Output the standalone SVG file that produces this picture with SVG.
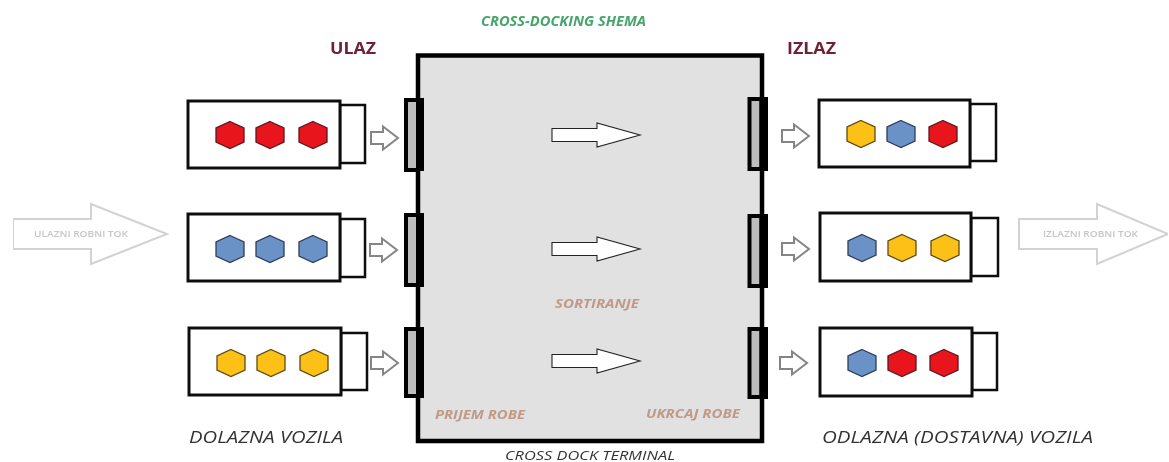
<svg xmlns="http://www.w3.org/2000/svg" width="1169" height="462" viewBox="0 0 1169 462">
<style>
text{font-family:"Open Sans","Liberation Sans",sans-serif}
.box{fill:#fff;stroke:#111;stroke-width:3}
.cab{fill:#fff;stroke:#111;stroke-width:2.5}
.r{fill:#e8161f;stroke:#5a1a20;stroke-width:1.3}
.b{fill:#6b92c6;stroke:#2c3e5c;stroke-width:1.3}
.y{fill:#fcc014;stroke:#5e4a12;stroke-width:1.3}
.sm{fill:#fff;stroke:#858585;stroke-width:2}
.big{fill:#fff;stroke:#d2d2d2;stroke-width:2}
.wh{fill:#fff;stroke:#222;stroke-width:1.1}
.door{fill:#bdbdbd;stroke:#000;stroke-width:4}
.dk{fill:#000}
.hd{font-size:15.5px;font-weight:700;fill:#6e2438}
.veh{font-size:17px;fill:#333;font-style:italic}
.br{font-size:13px;font-weight:700;font-style:italic;fill:#c09a86}
.flow{font-size:9.5px;fill:#c6c6c6;font-weight:600}
</style>
<defs>
<polygon id="hex" points="0,-13.5 14,-7 14,7 0,13.5 -14,7 -14,-7"/>
<polygon id="sa" points="0,-6 12,-6 12,-11.5 27,0 12,11.5 12,6 0,6"/>
<polygon id="wa" points="0,-6.5 45,-6.5 45,-12 88,0 45,12 45,6.5 0,6.5"/>
<filter id="soft" x="0" y="0" width="100%" height="100%"><feGaussianBlur stdDeviation="0.35"/></filter>
</defs>
<g filter="url(#soft)">
<g id="terminal"><rect x="418" y="55.5" width="344" height="385.5" fill="#e1e1e1" stroke="#000" stroke-width="4.5"/></g>
<g id="doors-in">
<rect class="door" x="406" y="100" width="12" height="70"/><rect class="dk" x="416" y="98" width="8" height="73"/>
<rect class="door" x="406" y="215" width="12" height="70"/><rect class="dk" x="416" y="213" width="8" height="74"/>
<rect class="door" x="406" y="329" width="12" height="67"/><rect class="dk" x="416" y="327" width="8" height="71"/>
</g>
<g id="doors-out">
<rect class="door" x="749.5" y="99" width="12" height="70"/><rect class="dk" x="759.5" y="97" width="8.5" height="74"/>
<rect class="door" x="749.5" y="216" width="12" height="70"/><rect class="dk" x="759.5" y="214" width="8.5" height="74"/>
<rect class="door" x="749.5" y="329" width="12" height="68"/><rect class="dk" x="759.5" y="327" width="8.5" height="72"/>
</g>
<g id="truck-in-1"><rect class="cab" x="340" y="105" width="25" height="58"/><rect class="box" x="188" y="101" width="152" height="67"/>
<use href="#hex" class="r" x="230" y="135"/><use href="#hex" class="r" x="270" y="135"/><use href="#hex" class="r" x="313" y="135"/></g>
<g id="truck-in-2"><rect class="cab" x="340" y="219" width="25" height="58"/><rect class="box" x="188" y="214" width="152" height="67"/>
<use href="#hex" class="b" x="230" y="249"/><use href="#hex" class="b" x="270" y="249"/><use href="#hex" class="b" x="313" y="249"/></g>
<g id="truck-in-3"><rect class="cab" x="341" y="333" width="26" height="57"/><rect class="box" x="189" y="328" width="152" height="67"/>
<use href="#hex" class="y" x="231" y="363"/><use href="#hex" class="y" x="271" y="363"/><use href="#hex" class="y" x="314" y="363"/></g>
<g id="truck-out-1"><rect class="cab" x="970" y="104" width="26" height="57"/><rect class="box" x="819" y="100" width="151" height="67"/>
<use href="#hex" class="y" x="861" y="134"/><use href="#hex" class="b" x="901" y="134"/><use href="#hex" class="r" x="943" y="134"/></g>
<g id="truck-out-2"><rect class="cab" x="971" y="218" width="27" height="58"/><rect class="box" x="820" y="213" width="151" height="68"/>
<use href="#hex" class="b" x="862" y="248"/><use href="#hex" class="y" x="902" y="248"/><use href="#hex" class="y" x="945" y="248"/></g>
<g id="truck-out-3"><rect class="cab" x="972" y="333" width="25" height="57"/><rect class="box" x="820" y="328" width="152" height="68"/>
<use href="#hex" class="b" x="862" y="363"/><use href="#hex" class="r" x="902" y="363"/><use href="#hex" class="r" x="944" y="363"/></g>
<g id="connectors">
<use href="#sa" class="sm" x="371" y="138"/><use href="#sa" class="sm" x="370" y="250"/><use href="#sa" class="sm" x="371" y="363"/>
<use href="#sa" class="sm" x="782" y="136"/><use href="#sa" class="sm" x="782" y="249"/><use href="#sa" class="sm" x="780" y="363"/>
<use href="#wa" class="wh" x="552" y="135"/><use href="#wa" class="wh" x="552" y="249"/><use href="#wa" class="wh" x="552" y="361"/>
<polygon class="big" points="13,219 91,219 91,204 167,234 91,264 91,249 13,249"/>
<polygon class="big" points="1019,219 1097,219 1097,204 1168,234 1097,264 1097,249 1019,249"/>
</g>
<g id="labels">
<text x="481" y="26" font-size="15" font-weight="700" font-style="italic" fill="#45a56b" textLength="165" lengthAdjust="spacingAndGlyphs">CROSS-DOCKING SHEMA</text>
<text class="hd" x="330" y="54" textLength="46" lengthAdjust="spacingAndGlyphs">ULAZ</text>
<text class="hd" x="787" y="54" textLength="49" lengthAdjust="spacingAndGlyphs">IZLAZ</text>
<text class="br" x="555" y="308" textLength="84" lengthAdjust="spacingAndGlyphs">SORTIRANJE</text>
<text class="br" x="435" y="419" textLength="90" lengthAdjust="spacingAndGlyphs">PRIJEM ROBE</text>
<text class="br" x="646" y="418" textLength="94" lengthAdjust="spacingAndGlyphs">UKRCAJ ROBE</text>
<text class="veh" x="189" y="443" textLength="154" lengthAdjust="spacingAndGlyphs">DOLAZNA VOZILA</text>
<text class="veh" x="822" y="443" textLength="271" lengthAdjust="spacingAndGlyphs">ODLAZNA (DOSTAVNA) VOZILA</text>
<text x="505" y="460" font-size="13.5" font-style="italic" fill="#333" textLength="170" lengthAdjust="spacingAndGlyphs">CROSS DOCK TERMINAL</text>
<text class="flow" x="34" y="237" textLength="94" lengthAdjust="spacingAndGlyphs">ULAZNI ROBNI TOK</text>
<text class="flow" x="1043" y="237" textLength="95" lengthAdjust="spacingAndGlyphs">IZLAZNI ROBNI TOK</text>
</g>
</g>
</svg>
